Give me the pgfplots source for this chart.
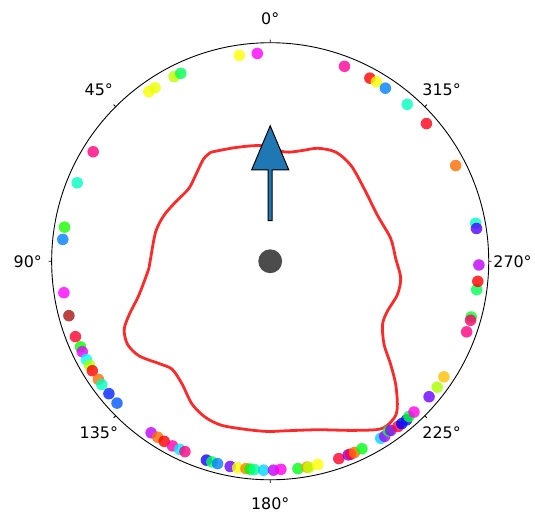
\documentclass[border=0pt]{standalone}
\usepackage{fontspec}
\setmainfont{DejaVu Sans}
\usepackage{pgfplots}
\usepackage{pgfplotstable}
\pgfplotsset{compat=1.18}
\usepgfplotslibrary{polar}
\definecolor{mplblue}{RGB}{31,119,180}
\definecolor{curvered}{RGB}{255,40,40}
\definecolor{darkdot}{RGB}{170,20,20}

% dots: Cartesian position in units of the outer radius, h = hue (degrees)
\pgfplotstableread{
x y h
-0.141 0.942 60
-0.059 0.951 300
-0.440 0.845 75
-0.409 0.860 140
-0.555 0.776 62
-0.527 0.794 65
-0.810 0.501 330
-0.883 0.359 165
-0.941 0.156 115
-0.949 0.100 210
-0.944 -0.144 300
-0.891 -0.345 350
-0.868 -0.392 120
-0.860 -0.414 295
-0.841 -0.450 180
-0.827 -0.476 80
-0.814 -0.501 0
-0.786 -0.541 25
-0.771 -0.564 165
-0.738 -0.606 232
-0.701 -0.649 220
-0.545 -0.785 285
-0.515 -0.805 25
-0.485 -0.824 0
-0.447 -0.845 320
-0.414 -0.861 185
-0.390 -0.871 330
-0.292 -0.910 245
-0.267 -0.918 140
-0.241 -0.926 210
-0.183 -0.939 265
-0.149 -0.945 62
-0.111 -0.949 30
-0.093 -0.951 120
-0.073 -0.953 155
-0.030 -0.956 190
0.015 -0.956 285
0.049 -0.952 305
0.127 -0.949 125
0.168 -0.942 35
0.177 -0.943 75
0.218 -0.930 60
0.314 -0.903 350
0.357 -0.886 270
0.368 -0.883 345
0.386 -0.875 25
0.420 -0.858 125
0.506 -0.810 190
0.524 -0.801 280
0.541 -0.777 130
0.552 -0.774 275
0.585 -0.756 345
0.602 -0.743 240
0.624 -0.726 235
0.635 -0.710 130
0.658 -0.690 305
0.727 -0.620 265
0.764 -0.576 80
0.795 -0.529 45
0.899 -0.323 330
0.920 -0.255 130
0.917 -0.270 335
0.945 -0.130 140
0.950 -0.092 0
0.955 -0.017 285
0.940 0.174 165
0.944 0.150 260
0.849 0.438 25
0.715 0.630 355
0.627 0.718 165
0.456 0.838 0
0.486 0.821 62
0.527 0.792 210
0.340 0.892 325
}\dotstable

% closed density-like curve, Cartesian in units of the outer radius
\pgfplotstableread{
x y
-0.271 0.499
-0.160 0.520
-0.040 0.529
0.067 0.500
0.142 0.506
0.218 0.517
0.301 0.499
0.370 0.438
0.430 0.332
0.491 0.210
0.551 0.105
0.574 0.014
0.597 -0.077
0.582 -0.153
0.536 -0.229
0.514 -0.290
0.521 -0.380
0.551 -0.471
0.574 -0.562
0.582 -0.653
0.574 -0.706
0.536 -0.751
0.491 -0.770
0.370 -0.774
0.218 -0.771
0.067 -0.776
-0.009 -0.779
-0.100 -0.771
-0.221 -0.751
-0.297 -0.714
-0.358 -0.653
-0.403 -0.562
-0.449 -0.494
-0.509 -0.468
-0.600 -0.433
-0.653 -0.380
-0.668 -0.312
-0.645 -0.244
-0.600 -0.153
-0.555 -0.032
-0.547 0.014
-0.524 0.135
-0.486 0.210
-0.433 0.271
-0.373 0.332
-0.342 0.392
-0.305 0.468
-0.271 0.499
}\curvetable

\begin{document}
\begin{tikzpicture}
\begin{polaraxis}[
  scale only axis, width=440bp, height=440bp,
  xmin=0, xmax=360, ymin=0, ymax=1,
  xtick={0,45,...,315}, xticklabels={},
  ytick=\empty, grid=none,
  separate axis lines,
  x axis line style={line width=0.9bp},
  y axis line style={draw=none},
  tick align=inside, major tick length=3bp,
  tick style={black, line width=0.8bp},
  clip=false,
  colormap={hue}{rgb255=(255,0,0) rgb255=(255,255,0) rgb255=(0,255,0) rgb255=(0,255,255) rgb255=(0,0,255) rgb255=(255,0,255) rgb255=(255,0,0)},
  point meta min=0, point meta max=360,
]
\addplot[curvered, line width=2.8bp, smooth, tension=0.5, data cs=cart] table[x=x,y=y] {\curvetable};

\addplot[scatter, only marks, mark=*, mark size=5.8bp, data cs=cart,
  scatter/use mapped color={draw=mapped color, draw opacity=0, fill=mapped color, fill opacity=0.8},
  point meta=explicit] table[x=x,y=y,meta=h] {\dotstable};
\addplot[only marks, mark=*, mark size=5.8bp, data cs=cart,
  mark options={draw=darkdot, draw opacity=0, fill=darkdot, fill opacity=0.8}] coordinates {(-0.921,-0.249)};

\addplot[fill=mplblue, draw=black, line width=1bp, line join=miter, data cs=cart] coordinates {
(-0.009,0.186) (0.009,0.186) (0.009,0.418) (0.085,0.418) (0,0.620) (-0.085,0.418) (-0.009,0.418) (-0.009,0.186)} -- cycle;

\addplot[only marks, mark=*, mark size=12bp, data cs=cart,
  mark options={draw=black, draw opacity=0, fill=black, fill opacity=0.7}] coordinates {(0,0)};

\coordinate (C) at (axis cs:0,0);
\begin{scope}[font=\fontsize{16bp}{19bp}\selectfont]
\node at (axis cs:90,1.109) {0°};
\node at (axis cs:135,1.109) {45°};
\node at (axis cs:180,1.109) {90°};
\node at (axis cs:225,1.109) {135°};
\node at (axis cs:270,1.109) {180°};
\node at (axis cs:315,1.109) {225°};
\node at (axis cs:0,1.109) {270°};
\node at (axis cs:45,1.109) {315°};
\end{scope}
\end{polaraxis}
\path ([shift={(-272bp,263bp)}]C) rectangle ([shift={(263bp,-255bp)}]C);
\end{tikzpicture}
\end{document}
